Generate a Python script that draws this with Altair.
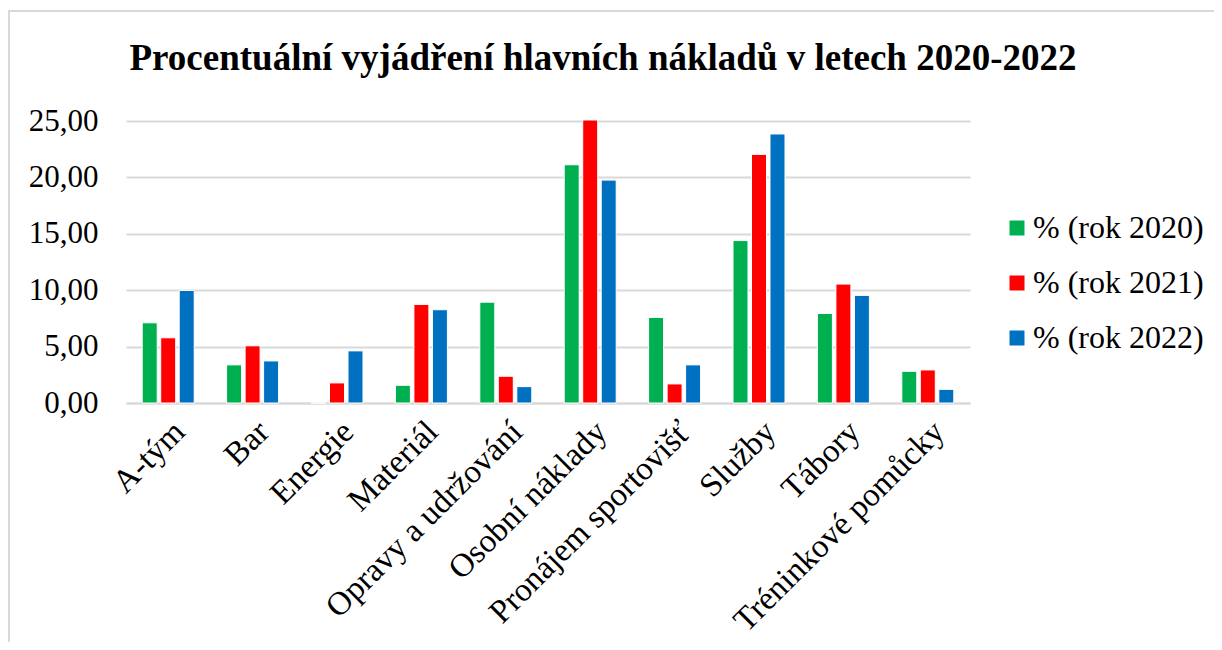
import altair as alt
import pandas as pd

categories = ["A-tým", "Bar", "Energie", "Materiál", "Opravy a udržování",
              "Osobní náklady", "Pronájem sportovišť", "Služby", "Tábory",
              "Tréninkové pomůcky"]
series = ["% (rok 2020)", "% (rok 2021)", "% (rok 2022)"]
v2020 = [7.11, 3.38, 0.0, 1.57, 8.94, 21.12, 7.58, 14.40, 7.94, 2.81]
v2021 = [5.78, 5.07, 1.78, 8.74, 2.37, 25.09, 1.69, 22.04, 10.54, 2.93]
v2022 = [9.98, 3.73, 4.62, 8.27, 1.45, 19.76, 3.38, 23.85, 9.54, 1.21]
y_ticks = [0, 5, 10, 15, 20, 25]
colors = ["#00B050", "#FF0000", "#0070C0"]

rows = []
for s, vals in zip(series, [v2020, v2021, v2022]):
    for c, v in zip(categories, vals):
        rows.append({"kategorie": c, "rada": s, "hodnota": v})
df = pd.DataFrame(rows)

FONT = "serif"

bars = alt.Chart(df).mark_bar(stroke="white", strokeWidth=1).encode(
    x=alt.X("kategorie:N", sort=categories,
            scale=alt.Scale(paddingInner=0.384, paddingOuter=0.192),
            axis=alt.Axis(title=None, labelAngle=-45, ticks=False, domain=True,
                          domainColor="#d9d9d9", domainWidth=2,
                          labelFont=FONT, labelFontSize=33, labelColor="black",
                          labelPadding=12, labelLimit=500)),
    xOffset=alt.XOffset("rada:N", sort=series, scale=alt.Scale(paddingInner=0.19)),
    y=alt.Y("hodnota:Q", scale=alt.Scale(domain=[0, 25], nice=False),
            axis=alt.Axis(title=None, values=y_ticks, grid=True, gridColor="#d9d9d9",
                          gridWidth=2, domain=False, ticks=False,
                          labelExpr="replace(format(datum.value, '.2f'), '.', ',')",
                          labelFont=FONT, labelFontSize=31, labelColor="black",
                          labelPadding=28)),
    color=alt.Color("rada:N", sort=series,
                    scale=alt.Scale(domain=series, range=colors),
                    legend=alt.Legend(title=None, orient="none", legendX=875, legendY=91,
                                      symbolType="square", symbolSize=225,
                                      symbolStrokeWidth=0, labelFont=FONT,
                                      labelFontSize=32, labelColor="black",
                                      rowPadding=23, labelOffset=0, labelLimit=400)),
)

frame = alt.Chart(pd.DataFrame({"a": [0]})).mark_rect(
    filled=False, stroke="#d9d9d9", strokeWidth=2
).encode(
    x=alt.value(-117), x2=alt.value(1095), y=alt.value(-110), y2=alt.value(540)
)

chart = alt.layer(frame, bars).properties(
    width=844, height=282,
    padding={"left": 118, "top": 113, "right": 244, "bottom": 239},
    autosize="none",
    title=alt.Title("Procentuální vyjádření hlavních nákladů v letech 2020-2022",
                    font=FONT, fontSize=37, fontWeight="bold", color="black",
                    anchor="middle", frame="group", dx=55, offset=-68),
).configure_view(stroke=None)

chart.save("out.html", embed_options={"renderer": "svg", "actions": False})
